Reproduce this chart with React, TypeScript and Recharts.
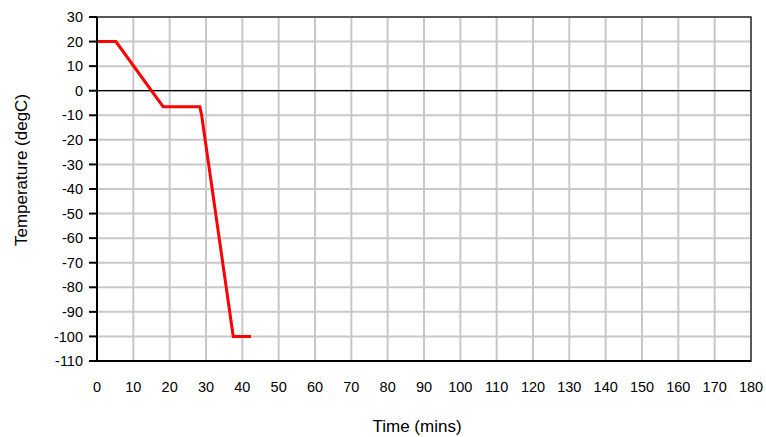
import { LineChart, Line, XAxis, YAxis, CartesianGrid, ReferenceLine, ReferenceArea } from 'recharts';

// temperature profile
const timeMins = [0, 5.2, 18.2, 28.3, 28.8, 37.5, 42.4];
const tempDegC = [20, 20, -6.5, -6.5, -10, -100, -100];

const xTicks = [0, 10, 20, 30, 40, 50, 60, 70, 80, 90, 100, 110, 120, 130, 140, 150, 160, 170, 180];
const yTicks = [30, 20, 10, 0, -10, -20, -30, -40, -50, -60, -70, -80, -90, -100, -110];

const data = timeMins.map((t, i) => ({ t, temp: tempDegC[i] }));

const font = '"Liberation Sans", Arial, sans-serif';

export default function App() {
  return (
    <div style={{ position: 'absolute', left: 0, top: 0, width: 766, height: 437, background: '#fff', fontFamily: font }}>
      <LineChart width={766} height={437} data={data} margin={{ top: 17, right: 15, left: 0, bottom: 0 }}>
        <CartesianGrid stroke="#c8c8c8" strokeWidth={2} />
        <XAxis
          type="number"
          dataKey="t"
          domain={[0, 180]}
          ticks={xTicks}
          interval={0}
          tickLine={false}
          axisLine={{ stroke: '#000', strokeWidth: 2 }}
          tick={{ fill: '#000', fontSize: 14.5, fontFamily: font }}
          tickMargin={15}
          height={76}
          label={{
            content: () => (
              <text x={417} y={432} textAnchor="middle" fill="#000" fontSize={17} fontFamily={font}>Time (mins)</text>
            ),
          }}
        />
        <YAxis
          type="number"
          domain={[-110, 30]}
          ticks={yTicks}
          interval={0}
          tickSize={8}
          tickMargin={6}
          tickLine={{ stroke: '#000', strokeWidth: 2 }}
          axisLine={{ stroke: '#000', strokeWidth: 2 }}
          tick={{ fill: '#000', fontSize: 14.5, fontFamily: font }}
          width={97}
          label={{
            content: () => (
              <text x={27} y={170} transform="rotate(-90 27 170)" textAnchor="middle" fill="#000" fontSize={17} fontFamily={font}>Temperature (degC)</text>
            ),
          }}
        />
        <ReferenceArea x1={0} x2={180} y1={-110} y2={30} fill="none" stroke="#333" strokeWidth={1.5} />
        <ReferenceLine y={0} stroke="#000" strokeWidth={1.2} />
        <Line type="linear" dataKey="temp" stroke="#ff0000" strokeWidth={3} dot={false} isAnimationActive={false} />
      </LineChart>
    </div>
  );
}
